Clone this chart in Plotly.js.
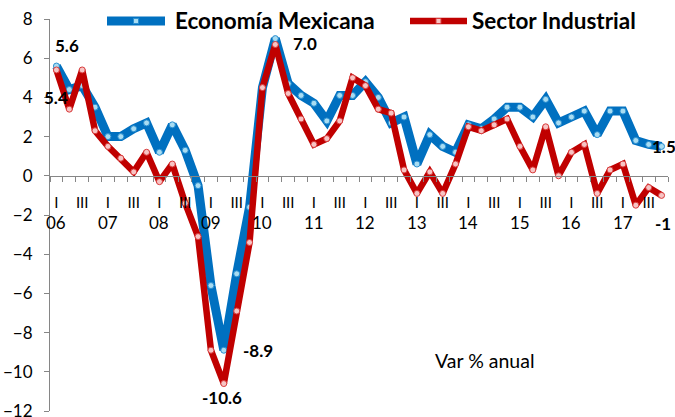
<!DOCTYPE html>
<html>
<head>
<meta charset="utf-8">
<script src="https://cdn.plot.ly/plotly-3.0.1.min.js"></script>
<style>html,body{margin:0;padding:0;background:#fff;}#chart{width:675px;height:417px;}</style>
</head>
<body>
<div id="chart"></div>
<script>
// ---- data ----
const years = ['06','07','08','09','10','11','12','13','14','15','16','17'];
const quarterNames = ['I','II','III','IV'];
const quarterTickText = ['I','','III',''];
const economia = [5.6,4.4,4.6,3.5,2.0,2.0,2.4,2.7,1.2,2.6,1.3,-0.5,
                  -5.6,-8.9,-5.0,-1.6,4.5,7.0,4.7,4.1,3.7,2.8,4.1,4.1,
                  4.8,4.0,2.7,3.0,0.6,2.1,1.5,1.2,2.6,2.4,2.9,3.5,
                  3.5,3.0,3.9,2.7,3.0,3.3,2.1,3.3,3.3,1.8,1.6,1.5];
const industrial = [5.4,3.4,5.4,2.3,1.5,0.9,0.2,1.2,-0.3,0.6,-1.4,-3.1,
                    -8.9,-10.6,-6.9,-3.4,4.5,6.7,4.2,2.9,1.6,1.9,2.8,5.0,
                    4.6,3.4,3.2,0.3,-0.9,0.2,-0.9,0.6,2.5,2.3,2.6,2.9,
                    1.5,0.3,2.5,0.0,1.2,1.6,-0.9,0.3,0.6,-1.5,-0.6,-1.0];
const seriesNames = ['Economía Mexicana','Sector Industrial'];
const yRange = [-12, 8];
const noteText = 'Var % anual';
// labelled points: series, index, text, pixel offsets
const pointLabels = [
  {s:0, i:0,  text:'5.6',   dx:11, dy:21},
  {s:1, i:0,  text:'5.4',   dx:0,  dy:-28},
  {s:0, i:17, text:'7.0',   dx:30, dy:-5},
  {s:0, i:13, text:'-8.9',  dx:34, dy:0},
  {s:1, i:13, text:'-10.6', dx:-2, dy:-14},
  {s:0, i:47, text:'1.5',   dx:2,  dy:0},
  {s:1, i:47, text:'-1',    dx:1,  dy:-28}
];

// ---- build ----
const W = 675, H = 417;
const M = {l: 50, r: 7, t: 19, b: 6};
const px2x = p => (p - M.l) / (W - M.l - M.r);
const px2y = p => 1 - (p - M.t) / (H - M.t - M.b);

const categories = [];
const tickText = [];
years.forEach(y => quarterNames.forEach((q, k) => {
  categories.push(y + '-' + q);
  tickText.push(quarterTickText[k]);
}));
const seriesVals = [economia, industrial];

const FONT = 'Lato, Carlito, Calibri, "Open Sans", sans-serif';
const colors = ['#0070C0', '#C00000'];
const widths = [9, 6.5];
const mFill = ['#a8dcf2', '#f7c4c4'];
const mLine = ['#2b8fd0', '#d83a3a'];

const traces = seriesVals.map((vals, s) => ({
  x: categories, y: vals, name: seriesNames[s], type: 'scatter', mode: 'lines+markers',
  line: {color: colors[s], width: widths[s]},
  marker: {symbol: 'circle', size: 6, color: mFill[s], line: {color: mLine[s], width: 1}}
}));

const annotations = [];
const shapes = [];
years.forEach(y => annotations.push({
  x: y + '-I', y: 0, xref: 'x', yref: 'y', text: y, showarrow: false,
  yshift: -47, font: {family: FONT, size: 17, color: '#000'}
}));
pointLabels.forEach(p => annotations.push({
  x: categories[p.i], y: seriesVals[p.s][p.i], xref: 'x', yref: 'y', text: '<b>' + p.text + '</b>',
  showarrow: false, xshift: p.dx, yshift: p.dy, font: {family: FONT, size: 17, color: '#000'}
}));
annotations.push({x: px2x(485), y: px2y(360), xref: 'paper', yref: 'paper', text: noteText,
  xanchor: 'center', yanchor: 'middle', showarrow: false,
  font: {family: FONT, size: 19.5, color: '#000'}});

// custom legend (line sample + marker + bold name)
const legendItems = [
  {x0: 107, x1: 165, tx: 173},
  {x0: 410, x1: 467, tx: 470}
];
const legY = 21;
legendItems.forEach((it, s) => {
  shapes.push({type: 'line', xref: 'paper', yref: 'paper',
    x0: px2x(it.x0), x1: px2x(it.x1), y0: px2y(legY), y1: px2y(legY),
    line: {color: colors[s], width: widths[s]}});
  const cx = (it.x0 + it.x1) / 2;
  shapes.push({type: 'rect', xref: 'paper', yref: 'paper',
    x0: px2x(cx - 2.5), x1: px2x(cx + 2.5), y0: px2y(legY + 2.5), y1: px2y(legY - 2.5),
    fillcolor: mFill[s], line: {color: mLine[s], width: 1}});
  annotations.push({x: px2x(it.tx), y: px2y(legY), xref: 'paper', yref: 'paper',
    xanchor: 'left', yanchor: 'middle', showarrow: false, text: '<b>' + seriesNames[s] + '</b>',
    font: {family: FONT, size: 22.5, color: '#000'}});
});

const layout = {
  width: W, height: H,
  margin: M,
  paper_bgcolor: '#fff', plot_bgcolor: '#fff',
  font: {family: FONT, color: '#000'},
  showlegend: false,
  xaxis: {type: 'category', categoryorder: 'array', categoryarray: categories,
    range: [-0.5, categories.length - 0.5], anchor: 'free',
    position: (0 - yRange[0]) / (yRange[1] - yRange[0]),
    showline: true, linecolor: '#868686', linewidth: 1,
    ticks: 'outside', tickson: 'boundaries', ticklen: 5, tickcolor: '#868686',
    tickvals: categories, ticktext: tickText, tickangle: 0, ticklabelstandoff: 13,
    tickfont: {family: FONT, size: 15, color: '#000'},
    showgrid: false, zeroline: false, fixedrange: true, automargin: false},
  yaxis: {range: yRange, dtick: 2, tick0: 0, showline: true, linecolor: '#868686', linewidth: 1,
    ticks: 'outside', ticklen: 5, tickcolor: '#868686', ticklabelstandoff: 8,
    ticklabeloverflow: 'allow',
    tickfont: {family: FONT, size: 17, color: '#000'},
    showgrid: false, zeroline: false, fixedrange: true, automargin: false},
  shapes: shapes,
  annotations: annotations
};

Plotly.newPlot('chart', traces, layout, {displayModeBar: false, staticPlot: true});
</script>
</body>
</html>
